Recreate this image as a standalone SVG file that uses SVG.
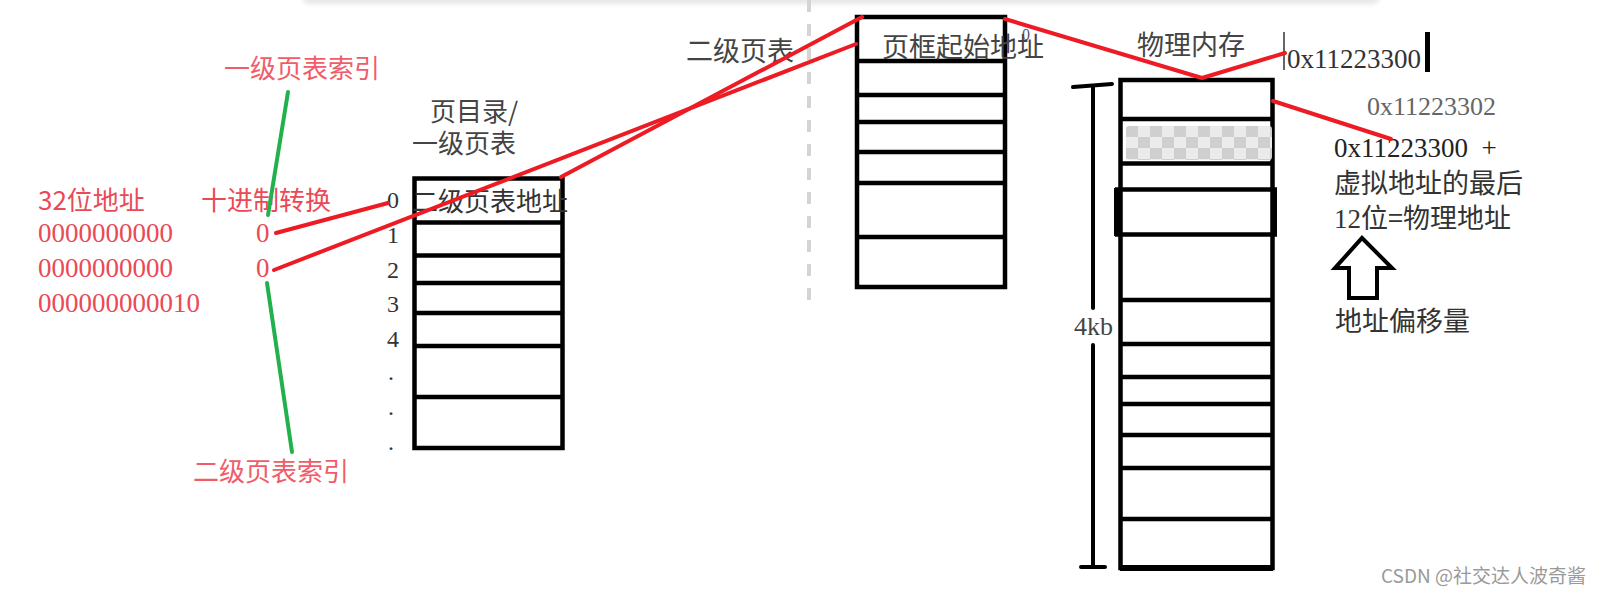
<svg xmlns="http://www.w3.org/2000/svg" width="1608" height="597" viewBox="0 0 1608 597">
<style>
.cjk{font-family:"Noto Sans CJK SC","Noto Sans",sans-serif;}
.ser{font-family:"Liberation Serif","Noto Sans CJK SC",serif;}
.red{fill:#ea4a55;}
.pink{fill:#f05c69;}
.dk{fill:#444;}
.box{fill:none;stroke:#000;stroke-width:4.5;}
.row{stroke:#000;stroke-width:4.5;}
.rl{stroke:#ed1c24;stroke-width:4;stroke-linecap:round;fill:none;stroke-linejoin:round;}
.gl{stroke:#22b14c;stroke-width:4;stroke-linecap:round;}
</style>
<defs>
<pattern id="chk" x="1126" y="126" width="24" height="22" patternUnits="userSpaceOnUse">
<rect width="24" height="22" fill="#ebebeb"/>
<rect width="12" height="11" fill="#cfcfcf"/>
<rect x="12" y="11" width="12" height="11" fill="#cfcfcf"/>
</pattern>
<filter id="blur" x="-5%" y="-200%" width="110%" height="500%"><feGaussianBlur stdDeviation="2.5"/></filter>
</defs>
<rect width="1608" height="597" fill="#fff"/>
<rect x="302" y="-14" width="1078" height="18" rx="8" fill="#e6e6e6" filter="url(#blur)"/>
<line x1="809" y1="0" x2="809" y2="307" stroke="#d4d4d4" stroke-width="4" stroke-dasharray="12 12"/>

<g id="labels-left">
<text class="cjk pink" x="224" y="78" font-size="26">一级页表索引</text>
<text class="cjk red" x="38" y="210" font-size="26">32位地址</text>
<text class="cjk red" x="201" y="210" font-size="26">十进制转换</text>
<text class="ser red" x="38" y="242" font-size="27">0000000000</text>
<text class="ser red" x="38" y="277" font-size="27">0000000000</text>
<text class="ser red" x="38" y="312" font-size="27">000000000010</text>
<text class="ser red" x="256" y="242" font-size="27">0</text>
<text class="ser red" x="256" y="277" font-size="27">0</text>
<text class="cjk pink" x="193" y="481" font-size="26">二级页表索引</text>
</g>

<g id="page-directory">
<text class="cjk dk" x="430" y="121" font-size="26">页目录/</text>
<text class="cjk dk" x="412" y="153" font-size="26">一级页表</text>
<rect class="box" x="414.5" y="178.5" width="148" height="269.5"/>
<line class="row" x1="414.5" y1="222.5" x2="562.5" y2="222.5"/>
<line class="row" x1="414.5" y1="255.5" x2="562.5" y2="255.5"/>
<line class="row" x1="414.5" y1="283" x2="562.5" y2="283"/>
<line class="row" x1="414.5" y1="313" x2="562.5" y2="313"/>
<line class="row" x1="414.5" y1="346" x2="562.5" y2="346"/>
<line class="row" x1="414.5" y1="397" x2="562.5" y2="397"/>
<text class="cjk" fill="#333" x="412" y="211" font-size="26">二级页表地址</text>
<g class="ser" fill="#333" font-size="24">
<text x="387" y="208">0</text>
<text x="387" y="243">1</text>
<text x="387" y="278">2</text>
<text x="387" y="312">3</text>
<text x="387" y="347">4</text>
<text x="388" y="380">.</text>
<text x="388" y="415">.</text>
<text x="388" y="450">.</text>
</g>
</g>

<g id="page-table">
<text class="cjk dk" x="686" y="61" font-size="27">二级页表</text>
<rect class="box" x="857" y="17" width="148" height="270"/>
<line class="row" x1="857" y1="61" x2="1005" y2="61"/>
<line class="row" x1="857" y1="95" x2="1005" y2="95"/>
<line class="row" x1="857" y1="122" x2="1005" y2="122"/>
<line class="row" x1="857" y1="152" x2="1005" y2="152"/>
<line class="row" x1="857" y1="183" x2="1005" y2="183"/>
<line class="row" x1="857" y1="237" x2="1005" y2="237"/>
<text class="ser" fill="#555" x="1022" y="40" font-size="16">0</text>
<text class="cjk dk" x="882" y="57" font-size="27">页框起始地址</text>
</g>

<g id="physical-memory">
<text class="cjk dk" x="1137" y="55" font-size="27">物理内存</text>
<rect class="box" x="1120.5" y="80" width="152" height="488"/>
<rect x="1126" y="126" width="146" height="34" rx="3" fill="url(#chk)"/>
<line class="row" x1="1120.5" y1="119" x2="1272.5" y2="119"/>
<line class="row" x1="1120.5" y1="163.5" x2="1272.5" y2="163.5"/>
<line class="row" x1="1115" y1="189.5" x2="1277" y2="189.5"/>
<line class="row" x1="1115" y1="234.5" x2="1277" y2="234.5"/>
<rect x="1114" y="188" width="8" height="48" fill="#000"/>
<rect x="1271" y="188" width="6" height="48" fill="#000"/>
<line class="row" x1="1120.5" y1="300" x2="1272.5" y2="300"/>
<line class="row" x1="1120.5" y1="344" x2="1272.5" y2="344"/>
<line class="row" x1="1120.5" y1="377" x2="1272.5" y2="377"/>
<line class="row" x1="1120.5" y1="404" x2="1272.5" y2="404"/>
<line class="row" x1="1120.5" y1="435" x2="1272.5" y2="435"/>
<line class="row" x1="1120.5" y1="468" x2="1272.5" y2="468"/>
<line class="row" x1="1120.5" y1="519" x2="1272.5" y2="519"/>
<line x1="1120" y1="568" x2="1273" y2="568" stroke="#000" stroke-width="6"/>
</g>

<g id="size-dimension" stroke="#000" stroke-width="4" stroke-linecap="round">
<line x1="1073" y1="87" x2="1112" y2="84"/>
<line x1="1093" y1="87" x2="1093" y2="308"/>
<line x1="1093" y1="345" x2="1093" y2="567"/>
<line x1="1081" y1="567" x2="1105" y2="567"/>
</g>
<text id="size-label" class="ser dk" x="1074" y="335" font-size="26">4kb</text>

<g id="address-labels">
<line x1="1284" y1="32" x2="1284" y2="70" stroke="#333" stroke-width="1.5"/>
<text class="ser" fill="#333" x="1287" y="68" font-size="27">0x11223300</text>
<rect x="1425" y="32" width="5" height="40" fill="#000"/>
<text class="ser" fill="#666" x="1367" y="115" font-size="26">0x11223302</text>
<text class="ser" fill="#222" x="1334" y="157" font-size="27" xml:space="preserve">0x11223300  +</text>
<text class="cjk" fill="#333" x="1334" y="193" font-size="27">虚拟地址的最后</text>
<text class="cjk" fill="#333" x="1334" y="228" font-size="27"><tspan class="ser">12</tspan>位=物理地址</text>
</g>

<g id="offset-arrow">
<path d="M1349,298 L1349,268 L1335,268 L1362,238 L1392,268 L1377,268 L1377,298 Z" fill="#fff" stroke="#000" stroke-width="4" stroke-linejoin="miter"/>
<text class="cjk" fill="#333" x="1335" y="331" font-size="27">地址偏移量</text>
</g>

<g id="connectors">
<line class="gl" x1="288" y1="92" x2="268" y2="215"/>
<line class="gl" x1="267" y1="283" x2="292" y2="452"/>
<line class="rl" x1="276" y1="233" x2="388" y2="203"/>
<line class="rl" x1="274" y1="270" x2="856" y2="44"/>
<line class="rl" x1="561" y1="177" x2="862" y2="17"/>
<polyline class="rl" points="1005,19 1202,78 1285,53"/>
<line class="rl" x1="1273" y1="101" x2="1391" y2="139"/>
</g>

<text id="watermark" class="cjk" fill="#9a9a9a" x="1381" y="583" font-size="19">CSDN @社交达人波奇酱</text>
</svg>
